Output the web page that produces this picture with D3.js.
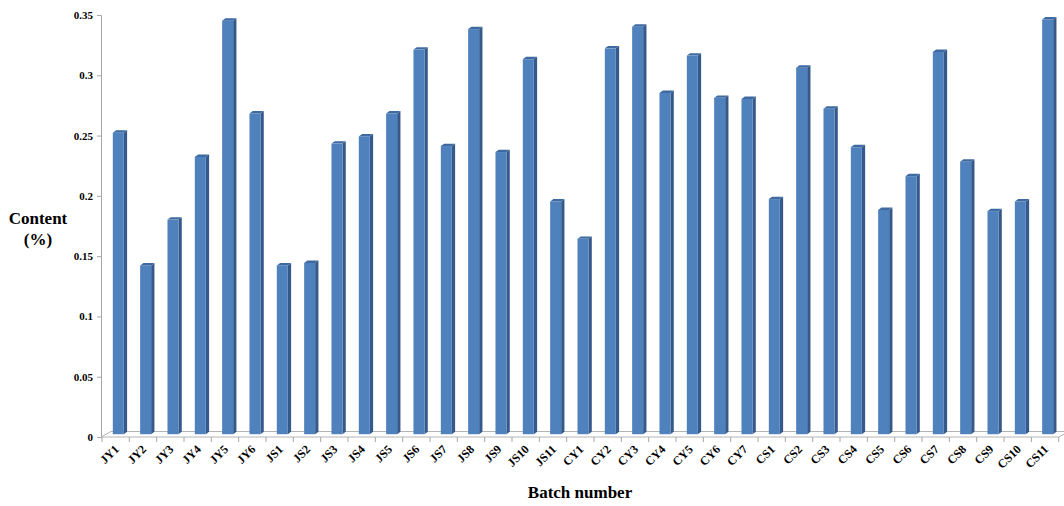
<!DOCTYPE html>
<html>
<head>
<meta charset="utf-8">
<script src="https://cdn.jsdelivr.net/npm/d3@7"></script>
<style>
  html, body { margin: 0; padding: 0; background: #fff; }
  svg { display: block; }
  text { font-family: "Liberation Serif", "Times New Roman", serif; font-weight: bold; fill: #000; }
</style>
</head>
<body>
<svg id="chart" width="1064" height="506"></svg>
<script>
// Batch identifiers along the x axis
const batches = [
  "JY1","JY2","JY3","JY4","JY5","JY6",
  "JS1","JS2","JS3","JS4","JS5","JS6","JS7","JS8","JS9","JS10","JS11",
  "CY1","CY2","CY3","CY4","CY5","CY6","CY7",
  "CS1","CS2","CS3","CS4","CS5","CS6","CS7","CS8","CS9","CS10","CS11"
];
// Content (%) for each batch
const contents = [
  0.250, 0.140, 0.178, 0.230, 0.343, 0.266,
  0.140, 0.142, 0.241, 0.247, 0.266, 0.319, 0.239, 0.336, 0.234, 0.311, 0.193,
  0.162, 0.320, 0.338, 0.283, 0.314, 0.279, 0.278,
  0.195, 0.304, 0.270, 0.238, 0.186, 0.214, 0.317, 0.226, 0.185, 0.193, 0.344
];
const yTicks = [0, 0.05, 0.1, 0.15, 0.2, 0.25, 0.3, 0.35];
const yTickLabels = ["0", "0.05", "0.1", "0.15", "0.2", "0.25", "0.3", "0.35"];

const svg = d3.select("#chart");

const x = d3.scaleBand().domain(batches).range([102, 1058.7]).padding(0);
const y = d3.scaleLinear().domain([0, 0.35]).range([437, 15]);

// depth of the 3D floor and of each column
const floorDx = 10, floorDy = 5.5;
const colDx = 3.3, colDy = 2.4;
const lift = 2.8;            // columns stand halfway back on the floor
const faceOffset = 10.8, faceW = 11;

// floor
const x0 = 101, x1 = 1058.7, yf = y(0);
svg.append("path")
  .attr("d", `M${x0},${yf}L${x0 + floorDx},${yf - floorDy}L${x1 + floorDx},${yf - floorDy}L${x1},${yf}Z`)
  .attr("fill", "#fff")
  .attr("stroke", "#b4b4b4")
  .attr("stroke-width", 1);

// y axis
const yAxis = d3.axisLeft(y)
  .tickValues(yTicks)
  .tickFormat((d, i) => yTickLabels[i])
  .tickSize(4)
  .tickPadding(4);
const gy = svg.append("g").attr("transform", "translate(101,0)").call(yAxis);
gy.select(".domain").attr("stroke", "#a6a6a6");
gy.selectAll(".tick line").attr("stroke", "#a6a6a6");
gy.selectAll(".tick text").style("font-size", "11px").style("font-family", "Liberation Serif").style("font-weight", "bold");

// x axis: separators between categories, with labels rotated 45°
const bounds = batches.map(b => x(b)).concat([x(batches[batches.length - 1]) + x.bandwidth()]);
const gx = svg.append("g");
gx.selectAll("line").data(bounds).enter().append("line")
  .attr("x1", d => d).attr("x2", d => d)
  .attr("y1", yf).attr("y2", yf + 5)
  .attr("stroke", "#a6a6a6");

gx.selectAll("text").data(batches).enter().append("text")
  .attr("transform", d => `translate(${x(d) + x.bandwidth() / 2 + 4},${yf + 13}) rotate(-45)`)
  .attr("text-anchor", "end")
  .style("font-size", "12px")
  .text(d => d);

// columns
const data = batches.map((b, i) => ({ b, v: contents[i] }));
const cols = svg.append("g").selectAll("g").data(data).enter().append("g");
const base = yf - lift;

cols.append("path")  // right side
  .attr("d", d => {
    const l = x(d.b) + faceOffset + faceW, t = y(d.v) - lift;
    return `M${l},${t}L${l + colDx},${t - colDy}L${l + colDx},${base - colDy}L${l},${base}Z`;
  })
  .attr("fill", "#34598a");

cols.append("path")  // top
  .attr("d", d => {
    const l = x(d.b) + faceOffset, t = y(d.v) - lift;
    return `M${l},${t}L${l + colDx},${t - colDy}L${l + faceW + colDx},${t - colDy}L${l + faceW},${t}Z`;
  })
  .attr("fill", "#3e6aa0");

cols.append("rect")  // front
  .attr("x", d => x(d.b) + faceOffset)
  .attr("y", d => y(d.v) - lift)
  .attr("width", faceW)
  .attr("height", d => base - (y(d.v) - lift))
  .attr("fill", "#4f81bd");

// axis titles
svg.append("text").attr("x", 38).attr("y", 224).attr("text-anchor", "middle")
  .style("font-size", "17px").text("Content");
svg.append("text").attr("x", 38).attr("y", 245).attr("text-anchor", "middle")
  .style("font-size", "17px").text("(%)");
svg.append("text").attr("x", 580).attr("y", 498).attr("text-anchor", "middle")
  .style("font-size", "17px").text("Batch number");
</script>
</body>
</html>
